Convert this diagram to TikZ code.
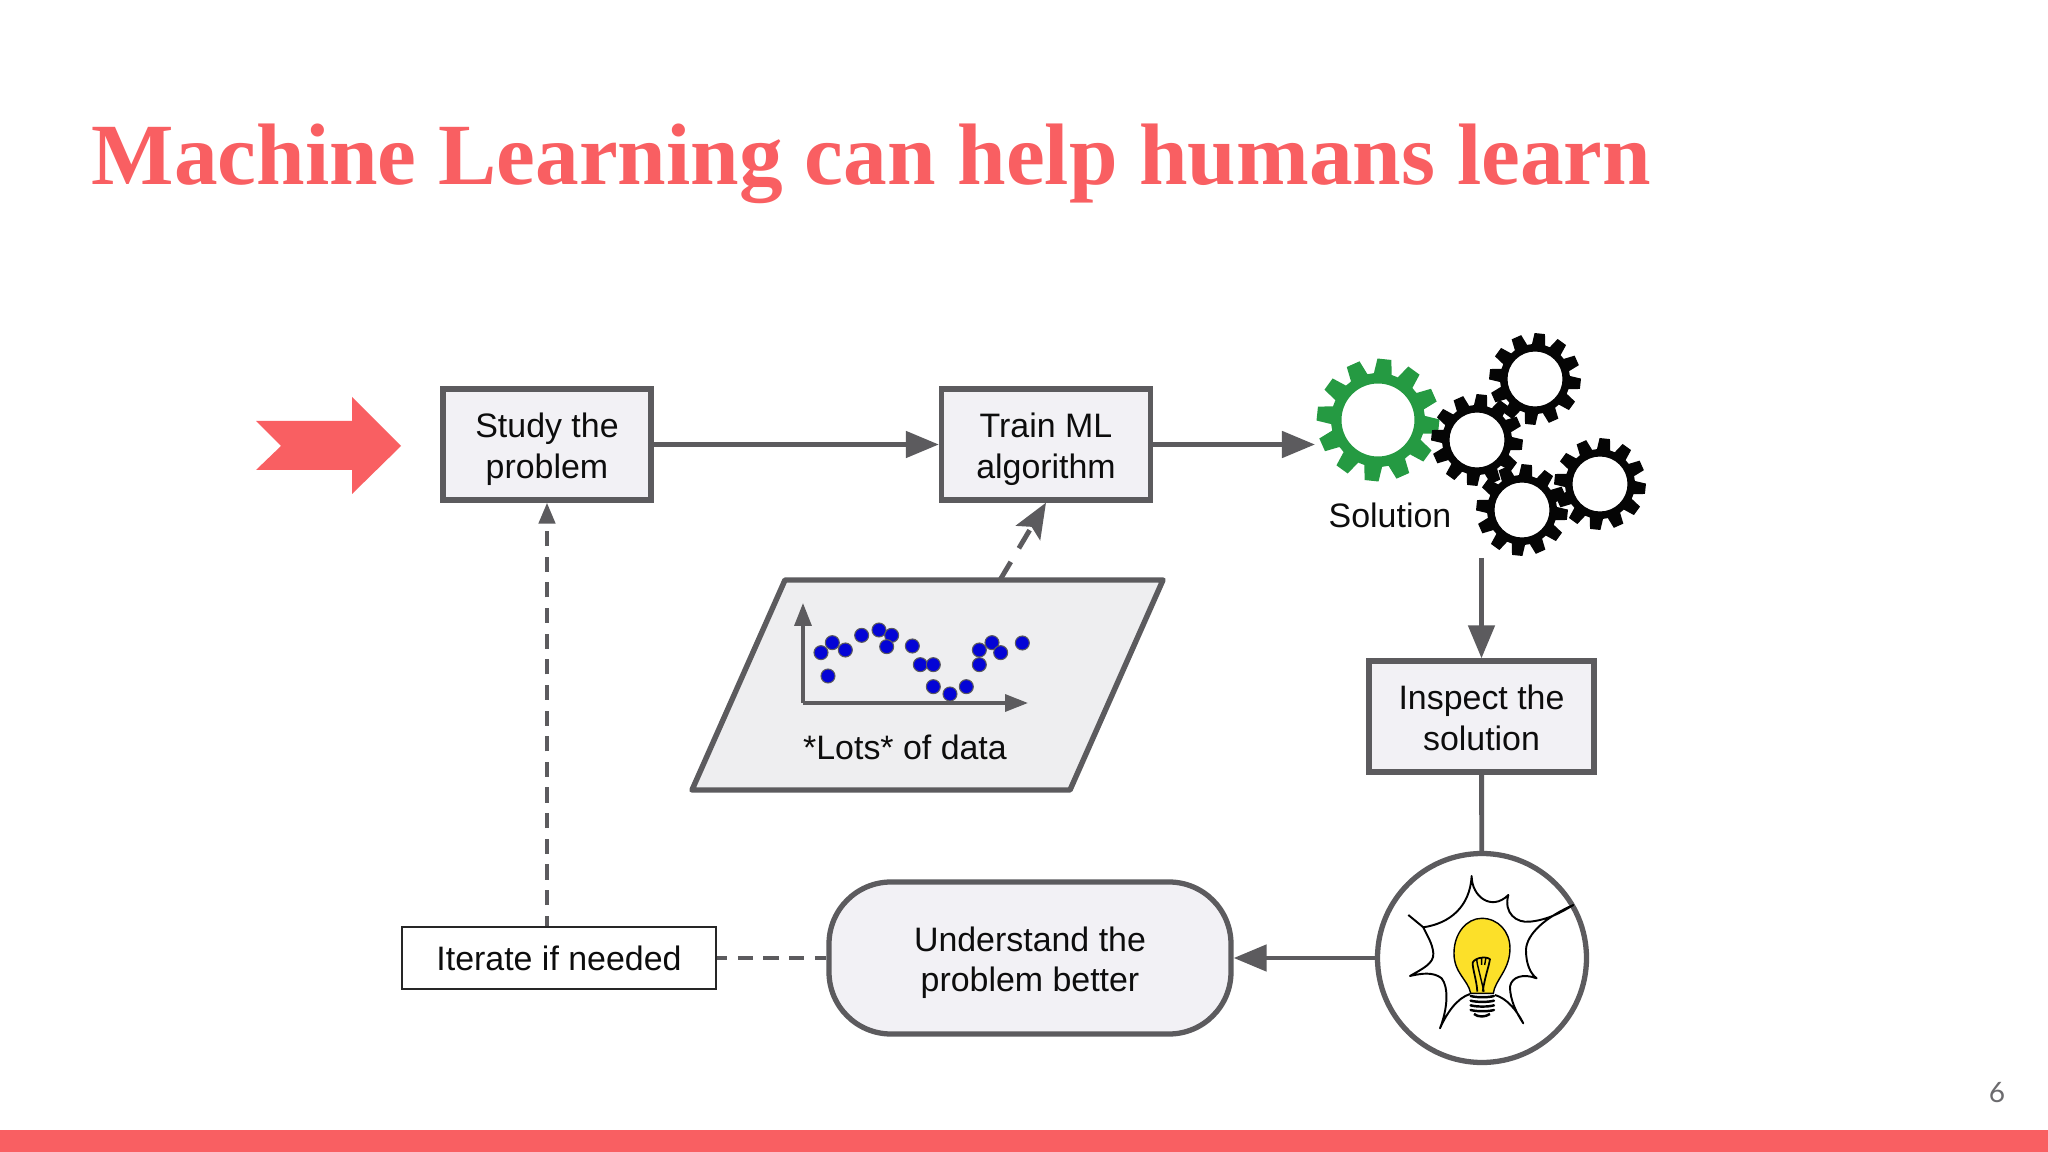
\documentclass[tikz,border=0pt]{standalone}
\usepackage{fontspec}
\setmainfont{Liberation Sans}
\newfontfamily\titlefont{Liberation Serif}
\newfontfamily\pagefont{Lato}
\usetikzlibrary{calc}
\usetikzlibrary{positioning}
\usetikzlibrary{arrows.meta}
\definecolor{coral}{HTML}{F95F62}
\definecolor{edgegray}{HTML}{5C5B5E}
\definecolor{boxfill}{HTML}{F2F1F5}
\definecolor{datafill}{HTML}{EEEEF0}
\definecolor{gearblack}{HTML}{050505}
\definecolor{geargreen}{HTML}{259A42}
\definecolor{dotblue}{HTML}{0404D6}
\definecolor{bulbyellow}{HTML}{FCE029}
\newcommand{\gearshape}[6]{%
    \fill[#6, even odd rule] ($(#1,#2)+(5:#3)$)
        \foreach \a in {24,54,...,354} {
            -- ($(#1,#2)+(\a-11:#3)$) -- ($(#1,#2)+(\a-6.5:#4)$) -- ($(#1,#2)+(\a+6.5:#4)$) -- ($(#1,#2)+(\a+11:#3)$)
        } -- cycle
        (#1,#2) circle (#5);
}

\begin{document}
\begin{tikzpicture}[
        flowtext/.style={font=\fontsize{9.65}{11.4}\selectfont, text=black!95, align=center},
        flowbox/.style={flowtext, draw=edgegray, fill=boxfill, line width=1.5pt, rectangle, inner sep=0pt, text height=19.1pt, text depth=0pt},
        bigedge/.style={draw=edgegray, line width=1.4pt, -{Triangle[length=9.4pt, width=7.4pt]}},
        softdash/.style={draw=edgegray, line width=1.2pt, dash pattern=on 4.3pt off 3pt, dash phase=1.4pt}]

    \useasboundingbox (0,0) rectangle (20.48,-11.52);
    \fill[white] (0,0) rectangle (20.48,-11.52);

    \node[anchor=base west, inner sep=0pt, text=coral, font=\fontsize{24.84}{30}\selectfont\titlefont\bfseries] (title) at (0.91,-1.85) {Machine Learning can help humans learn};
    \fill[coral] (0,-11.30) rectangle (20.48,-11.52);
    \node[text=edgegray!90, font=\fontsize{8}{10}\selectfont\pagefont] (pagenum) at (19.97,-10.93) {6};

    % entry arrow
    \fill[coral] (2.56,-4.21) -- (3.52,-4.21) -- (3.52,-3.97) -- (4.01,-4.46) -- (3.52,-4.94) -- (3.52,-4.70) -- (2.56,-4.70) -- (2.81,-4.46) -- cycle;

    \node[flowbox, minimum width=2.08cm, minimum height=1.11cm] (study) at (5.47,-4.445) {Study the\\problem};
    \node[flowbox, minimum width=2.09cm, minimum height=1.11cm] (train) at (10.46,-4.445) {Train ML\\algorithm};
    \node[flowbox, minimum width=2.25cm, minimum height=1.11cm] (inspect) at (14.815,-7.165) {Inspect the\\solution};
    \node[flowbox, rounded corners=0.62cm, minimum width=4.02cm, minimum height=1.52cm] (understand) at (10.30,-9.58) {Understand the\\problem better};
    \node[flowtext, draw=black!85, fill=white, line width=0.6pt, inner sep=0pt, minimum width=3.14cm, minimum height=0.62cm] (iterate) at (5.59,-9.58) {Iterate if needed};
    \node[circle, draw=edgegray, fill=white, line width=1.5pt, inner sep=0pt, minimum size=2.09cm] (bulb) at (14.82,-9.58) {};

    % data sheet
    \coordinate (datanw) at (7.85,-5.80);
    \coordinate (datane) at (11.63,-5.80);
    \coordinate (datase) at (10.70,-7.90);
    \coordinate (datasw) at (6.92,-7.90);
    \draw[draw=edgegray, fill=datafill, line width=1.55pt, line join=round] (datanw) -- (datane) -- (datase) -- (datasw) -- cycle;
    \node[flowtext] (lots) at (9.05,-7.47) {*Lots* of data};
    \coordinate (origin) at (8.03,-7.03);
    \coordinate (ytip) at (8.03,-6.03);
    \coordinate (xtip) at (10.28,-7.03);
    \draw[draw=edgegray, line width=1pt, -{Triangle[length=6.5pt, width=4.8pt]}] (origin) -- (ytip);
    \draw[draw=edgegray, line width=1pt, -{Triangle[length=6.5pt, width=4.8pt]}] (origin) -- (xtip);
    \foreach \zx/\zy in {423/488,457/458,496/480,444/558,545/436,597/420,635/436,620/470,697/468,721/524,760/524,760/590,810/612,859/590,898/524,898/480,936/458,962/488,1027/459}
        \draw[fill=dotblue, draw=edgegray, line width=0.3pt] ({6.8+\zx/300},{-4.9-\zy/300}) circle (0.07);

    % gears
    \gearshape{13.78}{-4.20}{0.47}{0.615}{0.365}{geargreen}
    \gearshape{15.35}{-3.79}{0.35}{0.46}{0.275}{gearblack}
    \gearshape{14.77}{-4.40}{0.35}{0.46}{0.275}{gearblack}
    \gearshape{15.22}{-5.10}{0.35}{0.46}{0.275}{gearblack}
    \gearshape{16.00}{-4.84}{0.35}{0.46}{0.275}{gearblack}
    \node[flowtext] (solution) at (13.90,-5.15) {Solution};
    \coordinate (gearsin) at (13.15,-4.445);
    \coordinate (gearsout) at (14.815,-5.58);
    \coordinate (datatop) at (10.0,-5.80);

    \draw[bigedge] (study) -- (train);
    \draw[bigedge] (train) -- (gearsin);
    \draw[bigedge] (gearsout) -- (inspect);
    \draw[edgegray, line width=1.4pt] (inspect) -- (bulb);
    \draw[bigedge] (bulb) -- (understand);
    \draw[softdash] (iterate) -- (understand);
    \draw[softdash, -{Triangle[length=6pt, width=4.6pt]}] (iterate.north -| study.south) -- (study.south);
    \draw[draw=edgegray, line width=1.4pt, dash pattern=on 6pt off 4.5pt, -{Stealth[length=10pt, width=8pt, inset=2pt]}] (datatop) -- (train.south);

    % lightbulb
    \begin{scope}[shift={(13.6,-8.4)}, xscale=0.3333, yscale=-0.3333]
        \draw[black, line width=0.55pt, line join=round]
            (1.45,2.25) -- (1.90,2.62) .. controls (2.70,2.50) and (3.30,2.00) .. (3.35,1.08)
            .. controls (3.35,1.70) and (3.95,2.15) .. (4.45,1.65)
            .. controls (4.30,2.20) and (4.70,2.50) .. (5.10,2.45) .. controls (5.60,2.40) and (6.00,2.20) .. (6.40,1.95)
            .. controls (5.60,2.30) and (5.00,2.80) .. (4.98,3.30) .. controls (4.98,3.70) and (5.10,4.00) .. (5.30,4.15)
            .. controls (4.90,4.00) and (4.55,4.10) .. (4.50,4.40) .. controls (4.50,4.80) and (4.70,5.20) .. (4.90,5.50)
            .. controls (4.70,5.10) and (4.40,4.75) .. (4.05,4.65);
        \draw[black, line width=0.55pt, line join=round]
            (3.30,4.62) .. controls (2.90,4.75) and (2.60,5.20) .. (2.40,5.65)
            .. controls (2.65,5.00) and (2.65,4.40) .. (2.45,4.15) .. controls (2.20,3.95) and (1.85,4.00) .. (1.50,4.08)
            .. controls (1.90,3.85) and (2.22,3.70) .. (2.20,3.40) .. controls (2.18,3.10) and (2.00,2.85) .. (1.90,2.62);
        \draw[black, fill=bulbyellow, line width=0.4pt] (3.32,4.60) .. controls (3.25,4.20) and (2.82,4.00) .. (2.82,3.40)
            .. controls (2.82,2.80) and (3.20,2.35) .. (3.65,2.35) .. controls (4.15,2.35) and (4.50,2.75) .. (4.50,3.25)
            .. controls (4.50,3.90) and (4.05,4.20) .. (4.00,4.60) -- cycle;
        \draw[black, line width=0.5pt] (3.52,4.55) .. controls (3.50,4.20) and (3.38,3.90) .. (3.38,3.68)
            .. controls (3.45,3.52) and (3.80,3.48) .. (3.90,3.58) .. controls (3.85,3.85) and (3.75,4.10) .. (3.68,4.55);
        \draw[black, line width=0.4pt] (3.52,3.72) -- (3.72,4.55) (3.50,3.58) -- (3.52,3.72) (3.65,3.52) -- (3.65,3.75) (3.78,3.52) -- (3.74,3.75);
        \foreach \zy in {4.68,4.82,4.96,5.10}
            \draw[black, line width=0.7pt, line cap=round] (3.32,\zy) .. controls (3.50,\zy+0.05) and (3.85,\zy+0.05) .. (4.02,\zy);
        \draw[black, line width=0.7pt] (3.42,5.22) .. controls (3.55,5.32) and (3.75,5.32) .. (3.90,5.22);
    \end{scope}

\end{tikzpicture}
\end{document}
